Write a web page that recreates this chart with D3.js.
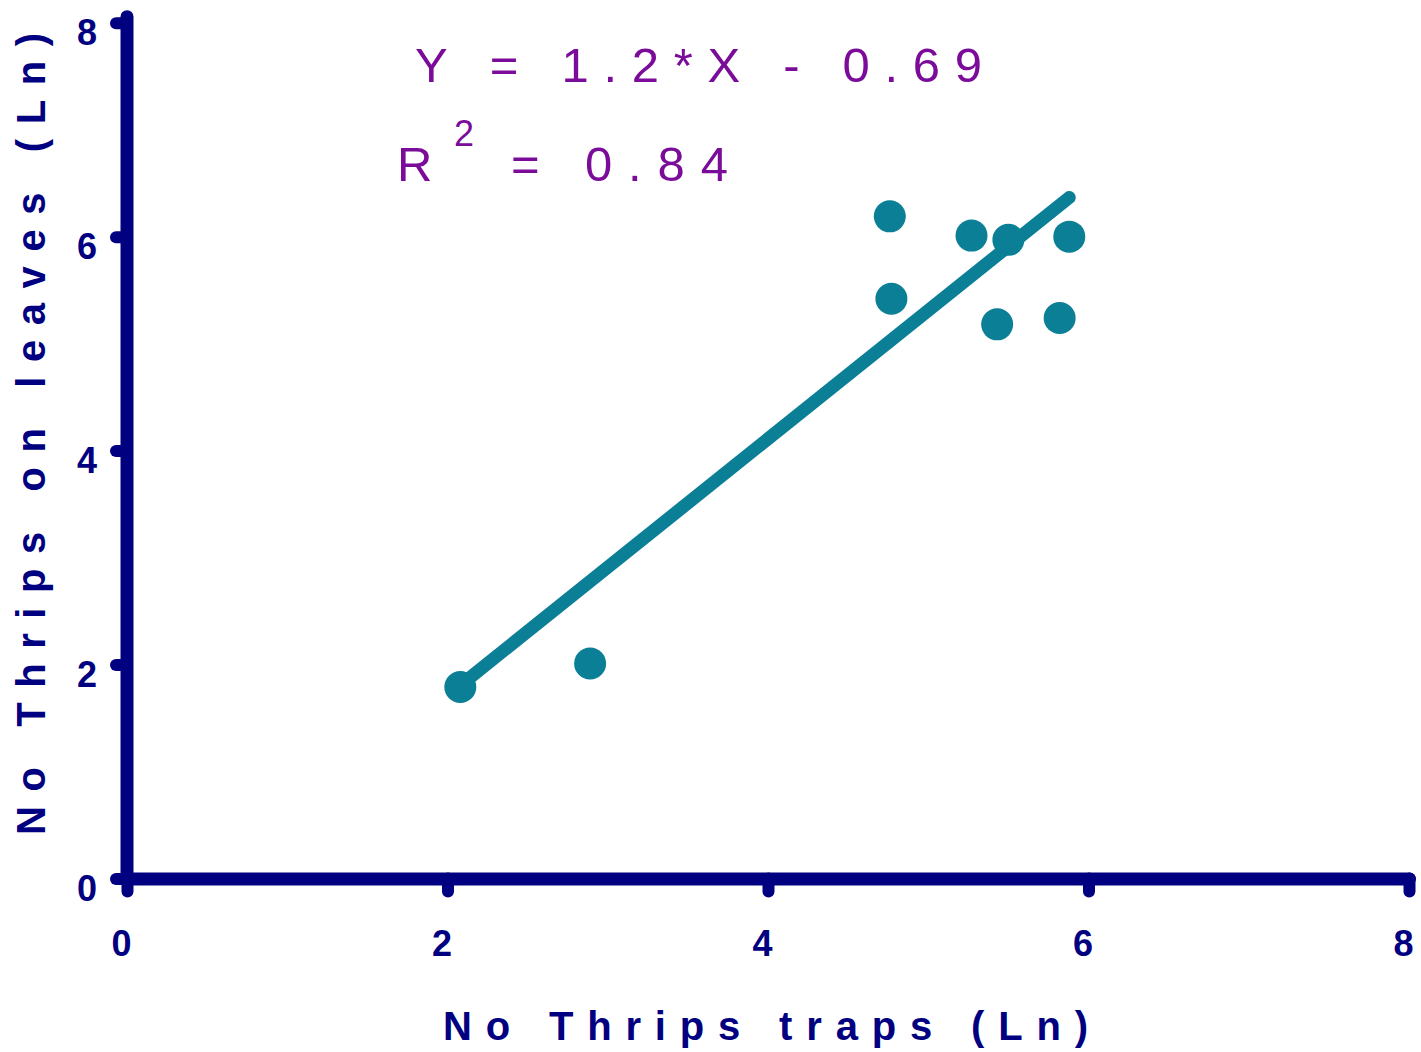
<!DOCTYPE html>
<html>
<head>
<meta charset="utf-8">
<script src="https://cdn.jsdelivr.net/npm/d3@7"></script>
<style>
  html, body { margin: 0; padding: 0; background: #ffffff; }
  svg { display: block; font-family: Arial, "Liberation Sans", sans-serif; }
</style>
</head>
<body>
<svg id="chart" width="1421" height="1052"></svg>
<script>
// Log-transformed thrips counts: sticky traps (x) vs. counts on leaves (y)
const trapsLn  = [2.08, 2.89, 4.76, 4.77, 5.27, 5.50, 5.88, 5.43, 5.82];
const leavesLn = [1.79, 2.01, 6.19, 5.42, 6.01, 5.97, 6.00, 5.18, 5.24];

// Fitted regression
const slope = 1.2;
const intercept = -0.69;
const rSquared = 0.84;

const xTicks = [0, 2, 4, 6, 8];
const yTicks = [0, 2, 4, 6, 8];

const axisColor = "#000080";
const markColor = "#0a7f95";
const textColor = "#7b0c99";

const svg = d3.select("#chart");

const x = d3.scaleLinear().domain([0, 8]).range([127, 1409]);
const y = d3.scaleLinear().domain([0, 8]).range([878.5, 22.7]);

// X axis
const gx = svg.append("g")
  .attr("transform", `translate(0,${y(0)})`)
  .call(d3.axisBottom(x).tickValues(xTicks).tickSizeOuter(0).tickSizeInner(13).tickPadding(0).tickFormat(d3.format("d")));
gx.select(".domain").attr("stroke", axisColor).attr("stroke-width", 13).attr("stroke-linecap", "round");
gx.selectAll(".tick line").attr("stroke", axisColor).attr("stroke-width", 12).attr("stroke-linecap", "round");
gx.selectAll(".tick text")
  .attr("fill", axisColor).attr("font-size", 36).attr("font-weight", "bold")
  .attr("font-family", "Arial, 'Liberation Sans', sans-serif")
  .attr("dy", null).attr("y", 77).attr("x", -6);

// Y axis
const gy = svg.append("g")
  .attr("transform", `translate(${x(0)},0)`)
  .call(d3.axisLeft(y).tickValues(yTicks).tickSizeOuter(0).tickSizeInner(11).tickPadding(0).tickFormat(d3.format("d")));
gy.select(".domain").attr("stroke", axisColor).attr("stroke-width", 13).attr("stroke-linecap", "round")
  .attr("d", `M0,${y(0)}V${y(8) - 6}`);
gy.selectAll(".tick line").attr("stroke", axisColor).attr("stroke-width", 12).attr("stroke-linecap", "round");
gy.selectAll(".tick text")
  .attr("fill", axisColor).attr("font-size", 36).attr("font-weight", "bold")
  .attr("font-family", "Arial, 'Liberation Sans', sans-serif")
  .attr("dy", null).attr("y", 22).attr("x", -30);

// Regression line over the observed range
const xExtent = d3.extent(trapsLn);
svg.append("line")
  .attr("x1", x(xExtent[0])).attr("y1", y(slope * xExtent[0] + intercept))
  .attr("x2", x(xExtent[1])).attr("y2", y(slope * xExtent[1] + intercept))
  .attr("stroke", markColor).attr("stroke-width", 13).attr("stroke-linecap", "round");

// Observations
svg.append("g").selectAll("circle")
  .data(trapsLn.map((t, i) => [t, leavesLn[i]]))
  .join("circle")
  .attr("cx", d => x(d[0])).attr("cy", d => y(d[1]))
  .attr("r", 16).attr("fill", markColor);

// Equation and fit statistic
svg.append("text")
  .attr("x", 415).attr("y", 82)
  .attr("fill", textColor).attr("font-size", 49)
  .attr("textLength", 567).attr("lengthAdjust", "spacing")
  .text(`Y = ${slope}*X - ${Math.abs(intercept)}`);

svg.append("text")
  .attr("x", 397).attr("y", 181)
  .attr("fill", textColor).attr("font-size", 49)
  .text("R");
svg.append("text")
  .attr("x", 454).attr("y", 146)
  .attr("fill", textColor).attr("font-size", 36)
  .text("2");
svg.append("text")
  .attr("x", 511).attr("y", 181)
  .attr("fill", textColor).attr("font-size", 49)
  .attr("textLength", 217).attr("lengthAdjust", "spacing")
  .text(`= ${rSquared}`);

// Axis titles
svg.append("text")
  .attr("x", 443).attr("y", 1040)
  .attr("fill", axisColor).attr("font-size", 40).attr("font-weight", "bold")
  .attr("textLength", 645).attr("lengthAdjust", "spacing")
  .text("No Thrips traps (Ln)");

svg.append("text")
  .attr("transform", "translate(45,835) rotate(-90)")
  .attr("x", 0).attr("y", 0)
  .attr("fill", axisColor).attr("font-size", 40).attr("font-weight", "bold")
  .attr("textLength", 802).attr("lengthAdjust", "spacing")
  .text("No Thrips on leaves  (Ln)");
</script>
</body>
</html>
